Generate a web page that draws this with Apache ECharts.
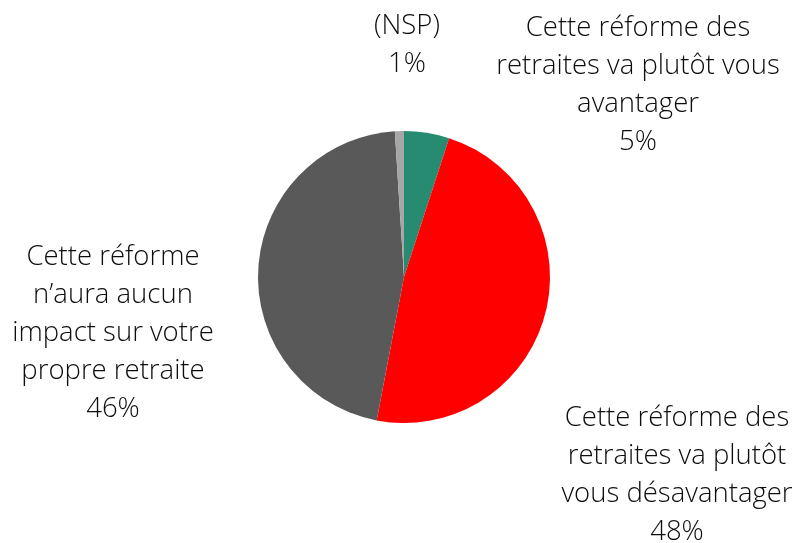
<!DOCTYPE html>
<html><head><meta charset="utf-8">
<script src="https://cdn.jsdelivr.net/npm/echarts@6/dist/echarts.min.js"></script>
<style>html,body{margin:0;padding:0;background:#fff}#c{width:802px;height:543px}</style>
</head><body><div id="c"></div>
<script>
var categories = [
  "Cette réforme des\nretraites va plutôt vous\navantager",
  "Cette réforme des\nretraites va plutôt\nvous désavantager",
  "Cette réforme\nn’aura aucun\nimpact sur votre\npropre retraite",
  "(NSP)"
];
var values = [5, 48, 46, 1];
var colors = ["#268B71", "#FF0000", "#595959", "#A6A6A6"];
var labelCenters = [[638, 85], [677, 475], [113, 333], [407, 45]];

var chart = echarts.init(document.getElementById('c'), null, {renderer: 'canvas'});
chart.setOption({
  animation: false,
  series: [{
    type: 'pie',
    center: [404, 277],
    radius: [0, 146],
    startAngle: 90,
    clockwise: true,
    avoidLabelOverlap: false,
    data: values.map(function (v, i) {
      return {value: v, name: categories[i], itemStyle: {color: colors[i]}};
    }),
    label: {
      show: true,
      position: 'outside',
      formatter: function (p) { return p.name + '\n' + p.value + '%'; },
      fontFamily: 'Open Sans',
      fontWeight: 300,
      fontSize: 27.5,
      lineHeight: 38,
      color: '#0d0d0d',
      align: 'center'
    },
    labelLine: {show: false},
    labelLayout: function (p) {
      var c = labelCenters[p.dataIndex];
      return {x: c[0], y: c[1], align: 'center', verticalAlign: 'middle'};
    }
  }]
});
</script></body></html>
